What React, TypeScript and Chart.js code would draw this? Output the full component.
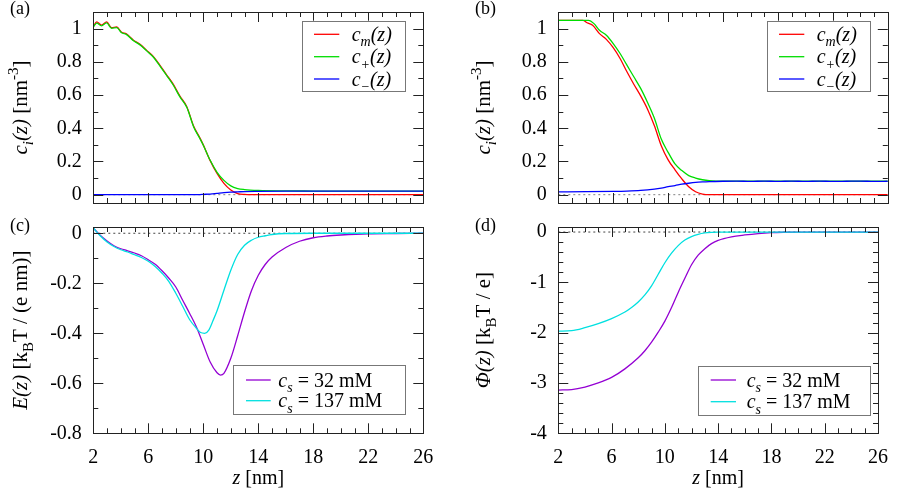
import React, { useEffect, useRef } from "react";
import { Chart, registerables } from "chart.js";
Chart.register(...registerables);

const FONT = '"Liberation Serif", "Times New Roman", serif';

// ---- shared x axis ----
const X_TICKS = [2, 6, 10, 14, 18, 22, 26];
const X_MINOR_STEP = 1;

// ---- (a) ----
const A_Z = [2, 2.25, 2.6, 2.97, 3.33, 3.7, 4.06, 4.4, 4.9, 5.4, 5.88, 6.36, 6.85, 7.33, 7.8, 8.3, 8.8, 9.3, 9.75, 10, 10.5, 11, 11.5, 12, 12.5, 13, 14, 16, 18, 20, 22, 24, 26];
const A_CM = [1.013, 1.04, 1.021, 1.04, 1.006, 1.01, 0.978, 0.968, 0.932, 0.905, 0.869, 0.833, 0.778, 0.722, 0.667, 0.593, 0.53, 0.412, 0.342, 0.3, 0.205, 0.128, 0.068, 0.028, 0.007, 0.002, 0, 0, 0, 0, 0, 0, 0];
const A_CP = [1.01, 1.033, 1.017, 1.034, 1.002, 1.006, 0.975, 0.965, 0.929, 0.902, 0.866, 0.829, 0.774, 0.718, 0.662, 0.589, 0.526, 0.408, 0.338, 0.298, 0.207, 0.135, 0.086, 0.053, 0.037, 0.031, 0.026, 0.023, 0.022, 0.021, 0.021, 0.021, 0.021];
const A_CN = [0, 0, 0, 0, 0, 0, 0, 0, 0, 0, 0, 0, 0, 0, 0, 0, 0, 0, 0.001, 0.002, 0.004, 0.008, 0.012, 0.015, 0.017, 0.019, 0.02, 0.021, 0.021, 0.021, 0.021, 0.021, 0.021];

// ---- (b) ----
const B_Z_CM = [2, 3.8, 4.1, 4.5, 5, 5.5, 6, 6.5, 7, 7.5, 8, 8.5, 9, 9.5, 10, 10.5, 11, 11.5, 12, 12.5, 13, 26];
const B_CM = [1.05, 1.05, 1.035, 1.02, 0.97, 0.935, 0.885, 0.82, 0.74, 0.665, 0.595, 0.515, 0.415, 0.295, 0.21, 0.15, 0.095, 0.048, 0.018, 0.004, 0, 0];
const B_Z_CP = [2, 4.2, 4.6, 5, 5.5, 6, 6.5, 7, 7.5, 8, 8.5, 9, 9.5, 10, 10.5, 11, 11.5, 12, 12.5, 13, 13.5, 26];
const B_CP = [1.05, 1.05, 1.03, 0.99, 0.96, 0.91, 0.85, 0.78, 0.71, 0.64, 0.555, 0.46, 0.335, 0.255, 0.185, 0.145, 0.115, 0.1, 0.09, 0.084, 0.082, 0.081];
const B_Z_CN = [2, 4, 6, 7, 8, 9, 9.5, 10, 10.5, 11, 11.5, 12, 12.5, 13, 14, 15, 16, 17, 18, 19, 20, 21, 22, 23, 24, 25, 26];
const B_CN = [0.017, 0.018, 0.02, 0.022, 0.026, 0.034, 0.04, 0.048, 0.055, 0.063, 0.069, 0.074, 0.077, 0.079, 0.081, 0.082, 0.08, 0.082, 0.08, 0.082, 0.08, 0.082, 0.08, 0.081, 0.082, 0.08, 0.081];

// ---- (c) ----
const C_Z_32 = [2, 2.5, 3, 3.5, 4, 4.5, 5, 5.5, 6, 6.5, 7, 7.5, 8, 8.5, 9, 9.5, 10, 10.5, 11, 11.25, 11.5, 12, 12.5, 13, 13.5, 14, 14.5, 15, 16, 17, 18, 19, 20, 22, 24, 26];
const C_E_32 = [0.021, -0.008, -0.031, -0.05, -0.062, -0.07, -0.079, -0.09, -0.106, -0.124, -0.15, -0.18, -0.215, -0.268, -0.32, -0.375, -0.445, -0.515, -0.558, -0.567, -0.56, -0.5, -0.41, -0.315, -0.23, -0.168, -0.125, -0.095, -0.057, -0.032, -0.018, -0.011, -0.007, -0.002, -0.001, 0];
const C_Z_137 = [2, 2.5, 3, 3.5, 4, 4.5, 5, 5.5, 6, 6.5, 7, 7.5, 8, 8.5, 9, 9.5, 9.8, 10.1, 10.4, 10.7, 11, 11.5, 12, 12.5, 13, 13.5, 14, 14.5, 15, 16, 18, 26];
const C_E_137 = [0.021, -0.01, -0.035, -0.053, -0.066, -0.075, -0.086, -0.097, -0.112, -0.133, -0.16, -0.193, -0.24, -0.292, -0.345, -0.38, -0.397, -0.4, -0.387, -0.35, -0.31, -0.228, -0.148, -0.085, -0.048, -0.028, -0.016, -0.01, -0.005, -0.001, 0, 0];

// ---- (d) ----
const D_Z_32 = [2, 3, 4, 5, 6, 7, 8, 8.5, 9, 9.5, 10, 10.5, 11, 11.5, 12, 12.5, 13, 13.5, 14, 15, 16, 17, 18, 19, 20, 26];
const D_P_32 = [-3.14, -3.13, -3.08, -3.0, -2.89, -2.72, -2.5, -2.36, -2.19, -1.99, -1.77, -1.5, -1.2, -0.92, -0.65, -0.46, -0.33, -0.23, -0.165, -0.095, -0.058, -0.03, -0.012, -0.004, 0, 0];
const D_Z_137 = [2, 3, 4, 5, 6, 7, 7.5, 8, 8.5, 9, 9.5, 10, 10.5, 11, 11.5, 12, 12.5, 13, 13.5, 14, 26];
const D_P_137 = [-1.97, -1.96, -1.9, -1.82, -1.72, -1.59, -1.5, -1.39, -1.25, -1.07, -0.84, -0.61, -0.42, -0.27, -0.16, -0.09, -0.045, -0.018, -0.005, 0, 0];

// zero reference line
const ZERO_Z = [2, 26];
const ZERO_V = [0, 0];

// y ticks
const YT_CONC = [0, 0.2, 0.4, 0.6, 0.8, 1];
const YL_CONC = ["0", "0.2", "0.4", "0.6", "0.8", "1"];
const YT_E = [-0.8, -0.6, -0.4, -0.2, 0];
const YL_E = ["-0.8", "-0.6", "-0.4", "-0.2", "0"];
const YT_PHI = [-4, -3, -2, -1, 0];
const YL_PHI = ["-4", "-3", "-2", "-1", "0"];

const RED = "#ff0000";
const GREEN = "#00dd00";
const BLUE = "#0000ff";
const PURPLE = "#9400d3";
const CYAN = "#00e0e0";
const ZERO_COLOR = "#808080";

type Seg = { t: string; i?: boolean; sub?: boolean; sup?: boolean };

function segFont(s: Seg, size: number) {
  const sz = s.sub || s.sup ? Math.round(size * 0.72) : size;
  return `${s.i ? "italic " : ""}${sz}px ${FONT}`;
}
function drawRich(ctx: CanvasRenderingContext2D, segs: Seg[], x: number, y: number, size: number, align: "left" | "center") {
  let w = 0;
  for (const s of segs) {
    ctx.font = segFont(s, size);
    w += ctx.measureText(s.t).width;
  }
  let cx = align === "center" ? x - w / 2 : x;
  ctx.textAlign = "left";
  ctx.textBaseline = "alphabetic";
  for (const s of segs) {
    ctx.font = segFont(s, size);
    const dy = s.sub ? size * 0.28 : s.sup ? -size * 0.42 : 0;
    ctx.fillText(s.t, cx, y + dy);
    cx += ctx.measureText(s.t).width;
  }
}

interface Series { z: number[]; v: number[]; color: string; dotted?: boolean }
interface LegendCfg {
  x: number; y: number; w: number; h: number;
  rows: number[]; lineX0: number; lineX1: number; textX: number;
  items: { color: string; segs: Seg[] }[];
}
interface PanelCfg {
  key: string;
  left: number; top: number; width: number; height: number;
  area: { l: number; t: number; r: number; b: number };
  yMin: number; yMax: number; yTicks: number[]; yLabels: string[]; yMinor: number;
  showX: boolean;
  series: Series[];
  legend: LegendCfg;
  yTitle: Seg[]; yTitleX: number;
  xTitleY: number;
  label: string; labelX: number; labelY: number;
}

const CONC_TITLE: Seg[] = [{ t: "c", i: true }, { t: "i", i: true, sub: true }, { t: "(z)", i: true }, { t: " [nm" }, { t: "-3", sup: true }, { t: "]" }];
const CONC_ITEMS = [
  { color: RED, segs: [{ t: "c", i: true }, { t: "m", i: true, sub: true }, { t: "(z)", i: true }] as Seg[] },
  { color: GREEN, segs: [{ t: "c", i: true }, { t: "+", i: true, sub: true }, { t: "(z)", i: true }] as Seg[] },
  { color: BLUE, segs: [{ t: "c", i: true }, { t: "\u2212", i: true, sub: true }, { t: "(z)", i: true }] as Seg[] },
];
const SALT_ITEMS = [
  { color: PURPLE, segs: [{ t: "c", i: true }, { t: "s", i: true, sub: true }, { t: " = 32 mM" }] as Seg[] },
  { color: CYAN, segs: [{ t: "c", i: true }, { t: "s", i: true, sub: true }, { t: " = 137 mM" }] as Seg[] },
];

const PANELS: PanelCfg[] = [
  {
    key: "a", left: 0, top: 0, width: 450, height: 215,
    area: { l: 93.3, t: 2.5, r: 423.3, b: 211.5 },
    yMin: -0.05, yMax: 1.1, yTicks: YT_CONC, yLabels: YL_CONC, yMinor: 0.1,
    showX: false,
    series: [
      { z: A_Z, v: A_CN, color: BLUE },
      { z: A_Z, v: A_CP, color: GREEN },
      { z: A_Z, v: A_CM, color: RED },
      { z: ZERO_Z, v: ZERO_V, color: ZERO_COLOR, dotted: true },
    ],
    legend: { x: 301.7, y: 20.7, w: 103.3, h: 70, rows: [34.3, 56.7, 79], lineX0: 314, lineX1: 339.3, textX: 351.7, items: CONC_ITEMS },
    yTitle: CONC_TITLE, yTitleX: 27, xTitleY: 0,
    label: "(a)", labelX: 10, labelY: 14,
  },
  {
    key: "b", left: 450, top: 0, width: 450, height: 215,
    area: { l: 108.3, t: 2.5, r: 437.8, b: 211.5 },
    yMin: -0.05, yMax: 1.1, yTicks: YT_CONC, yLabels: YL_CONC, yMinor: 0.1,
    showX: false,
    series: [
      { z: B_Z_CN, v: B_CN, color: BLUE },
      { z: B_Z_CP, v: B_CP, color: GREEN },
      { z: B_Z_CM, v: B_CM, color: RED },
      { z: ZERO_Z, v: ZERO_V, color: ZERO_COLOR, dotted: true },
    ],
    legend: { x: 316.7, y: 20.7, w: 103.3, h: 70, rows: [34.3, 56.7, 79], lineX0: 329, lineX1: 354.3, textX: 366.7, items: CONC_ITEMS },
    yTitle: CONC_TITLE, yTitleX: 40, xTitleY: 0,
    label: "(b)", labelX: 25, labelY: 14,
  },
  {
    key: "c", left: 0, top: 215, width: 450, height: 283,
    area: { l: 93.3, t: 8.65, r: 423.3, b: 218.3 },
    yMin: -0.8, yMax: 0.025, yTicks: YT_E, yLabels: YL_E, yMinor: 0.1,
    showX: true,
    series: [
      { z: C_Z_137, v: C_E_137, color: CYAN },
      { z: C_Z_32, v: C_E_32, color: PURPLE },
      { z: ZERO_Z, v: ZERO_V, color: "#444", dotted: true },
    ],
    legend: { x: 233.3, y: 150, w: 171.7, h: 49, rows: [165, 185.7], lineX0: 246, lineX1: 270.7, textX: 278.3, items: SALT_ITEMS },
    yTitle: [{ t: "E(z)", i: true }, { t: " [k" }, { t: "B", sub: true }, { t: "T / (e nm)]" }], yTitleX: 27, xTitleY: 269,
    label: "(c)", labelX: 10, labelY: 16,
  },
  {
    key: "d", left: 450, top: 215, width: 450, height: 283,
    area: { l: 108.3, t: 8.9, r: 437.8, b: 218.3 },
    yMin: -4, yMax: 0.1, yTicks: YT_PHI, yLabels: YL_PHI, yMinor: 0.2,
    showX: true,
    series: [
      { z: D_Z_137, v: D_P_137, color: CYAN },
      { z: D_Z_32, v: D_P_32, color: PURPLE },
      { z: ZERO_Z, v: ZERO_V, color: "#444", dotted: true },
    ],
    legend: { x: 248.3, y: 150.7, w: 172.4, h: 49.3, rows: [165, 186.7], lineX0: 260.7, lineX1: 286, textX: 296.7, items: SALT_ITEMS },
    yTitle: [{ t: "\u03A6(z)", i: true }, { t: " [k" }, { t: "B", sub: true }, { t: "T / e]" }], yTitleX: 40, xTitleY: 269,
    label: "(d)", labelX: 25, labelY: 16,
  },
];

const Y_TITLE_SIZE = 21;

function decorPlugin(cfg: PanelCfg) {
  return {
    id: "decor_" + cfg.key,
    afterDraw(chart: any) {
      const ctx: CanvasRenderingContext2D = chart.ctx;
      const { left, right, top, bottom } = chart.chartArea;
      const xs = chart.scales.x;
      const ys = chart.scales.y;
      ctx.save();
      ctx.strokeStyle = "#222";
      ctx.lineWidth = 1;
      ctx.beginPath();
      const x0 = X_TICKS[0];
      const x1 = X_TICKS[X_TICKS.length - 1];
      for (let k = 0; x0 + k * X_MINOR_STEP <= x1 + 1e-9; k++) {
        const z = x0 + k * X_MINOR_STEP;
        const px = Math.round(xs.getPixelForValue(z)) + 0.5;
        const len = X_TICKS.some((t) => Math.abs(t - z) < 1e-9) ? 10 : 5;
        ctx.moveTo(px, bottom);
        ctx.lineTo(px, bottom - len);
        ctx.moveTo(px, top);
        ctx.lineTo(px, top + len);
      }
      const start = Math.ceil((cfg.yMin - 1e-9) / cfg.yMinor);
      for (let k = start; k * cfg.yMinor <= cfg.yMax + 1e-9; k++) {
        const v = k * cfg.yMinor;
        const major = cfg.yTicks.some((t) => Math.abs(t - v) < 1e-6);
        const len = major ? 10 : 5;
        const py = Math.round(ys.getPixelForValue(v)) + 0.5;
        ctx.moveTo(left, py);
        ctx.lineTo(left + len, py);
        ctx.moveTo(right, py);
        ctx.lineTo(right - len, py);
      }
      ctx.stroke();
      ctx.strokeRect(Math.round(left) + 0.5, Math.round(top) + 0.5, Math.round(right - left), Math.round(bottom - top));

      // legend
      const lg = cfg.legend;
      ctx.fillStyle = "#fff";
      ctx.fillRect(lg.x, lg.y, lg.w, lg.h);
      ctx.strokeStyle = "#777";
      ctx.lineWidth = 1;
      ctx.strokeRect(Math.round(lg.x) + 0.5, Math.round(lg.y) + 0.5, Math.round(lg.w), Math.round(lg.h));
      lg.items.forEach((it, i) => {
        const y = lg.rows[i];
        ctx.strokeStyle = it.color;
        ctx.lineWidth = 1.3;
        ctx.beginPath();
        ctx.moveTo(lg.lineX0, y);
        ctx.lineTo(lg.lineX1, y);
        ctx.stroke();
        ctx.fillStyle = "#000";
        drawRich(ctx, it.segs, lg.textX, y + 6.5, 20, "left");
      });

      // titles
      ctx.fillStyle = "#000";
      ctx.save();
      ctx.translate(cfg.yTitleX, (top + bottom) / 2);
      ctx.rotate(-Math.PI / 2);
      drawRich(ctx, cfg.yTitle, 0, 0, Y_TITLE_SIZE, "center");
      ctx.restore();
      if (cfg.showX) {
        drawRich(ctx, [{ t: "z", i: true }, { t: " [nm]" }], (left + right) / 2, cfg.xTitleY, 20, "center");
      }
      drawRich(ctx, [{ t: cfg.label }], cfg.labelX, cfg.labelY, 18, "left");
      ctx.restore();
    },
  };
}

function buildConfig(cfg: PanelCfg): any {
  const { area, width, height } = cfg;
  return {
    type: "line",
    data: {
      datasets: cfg.series.map((s) => ({
        data: s.z.map((z, i) => ({ x: z, y: s.v[i] })),
        borderColor: s.color,
        backgroundColor: s.color,
        borderWidth: s.dotted ? 1 : 1.3,
        borderDash: s.dotted ? [2, 3] : [],
        pointRadius: 0,
        fill: false,
        cubicInterpolationMode: s.dotted ? "default" : "monotone",
      })),
    },
    options: {
      animation: false,
      responsive: false,
      maintainAspectRatio: false,
      events: [],
      layout: {
        padding: { left: 0, top: area.t, right: width - area.r, bottom: cfg.showX ? 0 : height - area.b },
      },
      plugins: { legend: { display: false }, tooltip: { enabled: false }, title: { display: false } },
      scales: {
        x: {
          type: "linear",
          min: 2,
          max: 26,
          display: cfg.showX,
          afterBuildTicks: (s: any) => {
            s.ticks = X_TICKS.map((v) => ({ value: v }));
          },
          afterFit: (s: any) => {
            s.height = height - area.b;
          },
          ticks: {
            autoSkip: false,
            maxRotation: 0,
            minRotation: 0,
            padding: 12,
            color: "#000",
            font: { family: FONT, size: 20 },
            callback: (v: number) => String(v),
          },
          grid: { display: false, drawTicks: false },
          border: { display: false },
        },
        y: {
          type: "linear",
          min: cfg.yMin,
          max: cfg.yMax,
          afterBuildTicks: (s: any) => {
            s.ticks = cfg.yTicks.map((v) => ({ value: v }));
          },
          afterFit: (s: any) => {
            s.width = area.l;
          },
          ticks: {
            autoSkip: false,
            padding: 11.5,
            color: "#000",
            font: { family: FONT, size: 20, lineHeight: 0.05 },
            callback: (v: number) => {
              const i = cfg.yTicks.findIndex((t) => Math.abs(t - v) < 1e-9);
              return i >= 0 ? cfg.yLabels[i] : "";
            },
          },
          grid: { display: false, drawTicks: false },
          border: { display: false },
        },
      },
    },
    plugins: [decorPlugin(cfg)],
  };
}

function Panel({ cfg }: { cfg: PanelCfg }) {
  const ref = useRef<HTMLCanvasElement>(null);
  useEffect(() => {
    const chart = new Chart(ref.current as HTMLCanvasElement, buildConfig(cfg));
    return () => chart.destroy();
  }, [cfg]);
  return (
    <canvas
      ref={ref}
      width={cfg.width}
      height={cfg.height}
      style={{ position: "absolute", left: cfg.left, top: cfg.top, width: cfg.width, height: cfg.height }}
    />
  );
}

export default function App() {
  return (
    <div style={{ position: "absolute", left: 0, top: 0, width: 900, height: 498, background: "#fff", overflow: "hidden" }}>
      {PANELS.map((p) => (
        <Panel key={p.key} cfg={p} />
      ))}
    </div>
  );
}
